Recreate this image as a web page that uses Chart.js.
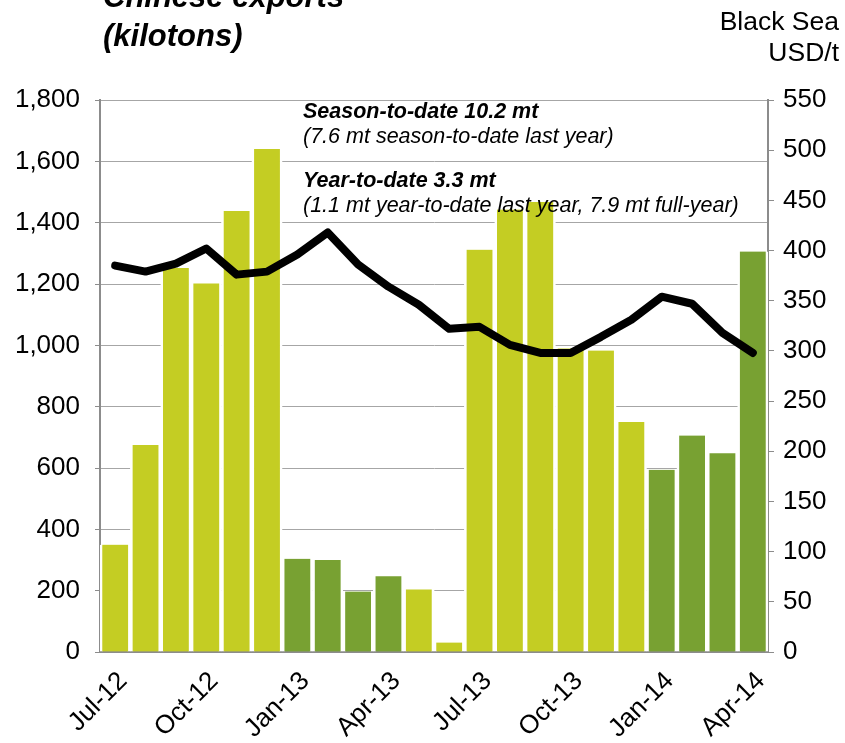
<!DOCTYPE html>
<html>
<head>
<meta charset="utf-8">
<script src="https://cdn.jsdelivr.net/npm/chart.js@4.4.1/dist/chart.umd.min.js"></script>
<style>
  html, body { margin: 0; padding: 0; background: #fff; }
  #wrap { width: 845px; height: 743px; position: relative; }
</style>
</head>
<body>
<div id="wrap"><canvas id="chartExports"></canvas></div>
<script>
// monthly wheat exports (kt) and Black Sea price (USD/t)
const months = ['Jul-12','Aug-12','Sep-12','Oct-12','Nov-12','Dec-12','Jan-13','Feb-13','Mar-13','Apr-13','May-13','Jun-13',
                'Jul-13','Aug-13','Sep-13','Oct-13','Nov-13','Dec-13','Jan-14','Feb-14','Mar-14','Apr-14'];
const exportsKt = [350, 675, 1252, 1202, 1438, 1640, 304, 300, 197, 247, 204, 31,
                   1312, 1443, 1467, 990, 983, 750, 594, 706, 648, 1306];
const priceUsd = [385, 379, 387, 402, 376, 379, 396, 418, 386, 364, 346, 322,
                  324, 306, 298, 298, 314, 331, 354, 347, 318, 298];
const exportTicks = { min: 0, max: 1800, step: 200 };
const priceTicks = { min: 0, max: 550, step: 50 };
const shownLabels = ['Jul-12','Oct-12','Jan-13','Apr-13','Jul-13','Oct-13','Jan-14','Apr-14'];
const notes = [
  ['Season-to-date 10.2 mt', '(7.6 mt season-to-date last year)'],
  ['Year-to-date 3.3 mt', '(1.1 mt year-to-date last year, 7.9 mt full-year)']
];

const FONT = "'Liberation Sans', Arial, sans-serif";
const LIGHT = '#c4cd23';
const DARK = '#78a132';
const AXIS = '#8c8c8c';

// Jan-Apr bars are darker
const barColors = months.map(m => ['Jan','Feb','Mar','Apr'].includes(m.slice(0,3)) ? DARK : LIGHT);

const textPlugin = {
  id: 'textPlugin',
  afterDraw(chart) {
    const ctx = chart.ctx;
    ctx.save();
    ctx.fillStyle = '#000';
    ctx.textBaseline = 'alphabetic';
    ctx.textAlign = 'left';
    ctx.font = 'italic bold 31px ' + FONT;
    ctx.fillText('Chinese exports', 103, 7);
    ctx.fillText('(kilotons)', 103, 46);

    ctx.textAlign = 'right';
    ctx.font = '26.5px ' + FONT;
    ctx.fillText('Black Sea', 839, 30);
    ctx.fillText('USD/t', 839, 61);

    ctx.textAlign = 'left';
    ctx.textBaseline = 'middle';
    let y = 112;
    notes.forEach(n => {
      ctx.font = 'italic bold 21.5px ' + FONT;
      ctx.fillText(n[0], 303, y);
      ctx.font = 'italic 21.5px ' + FONT;
      ctx.fillText(n[1], 303, y + 25);
      y += 69;
    });
    ctx.restore();
  }
};

Chart.defaults.font.family = FONT;
Chart.defaults.color = '#000';

new Chart(document.getElementById('chartExports'), {
  type: 'bar',
  data: {
    labels: months,
    datasets: [
      {
        type: 'line',
        label: 'Black Sea price',
        data: priceUsd,
        yAxisID: 'y1',
        borderColor: '#000',
        borderWidth: 8,
        pointRadius: 0,
        tension: 0,
        borderJoinStyle: 'round',
        borderCapStyle: 'round',
        order: 0
      },
      {
        label: 'Exports',
        data: exportsKt,
        yAxisID: 'y',
        backgroundColor: barColors,
        borderColor: '#fff',
        borderWidth: { left: 2.6, right: 2.6, top: 0, bottom: 0 },
        borderSkipped: false,
        categoryPercentage: 1,
        barPercentage: 1,
        order: 1
      }
    ]
  },
  options: {
    responsive: true,
    maintainAspectRatio: false,
    animation: false,
    layout: { padding: { top: 100, left: 0, right: 0, bottom: 0 } },
    plugins: { legend: { display: false }, tooltip: { enabled: false } },
    scales: {
      x: {
        grid: { display: false },
        border: { display: true, color: AXIS, width: 2 },
        ticks: {
          autoSkip: false,
          maxRotation: 45,
          minRotation: 45,
          labelOffset: 8,
          padding: 6,
          font: { size: 26 },
          callback: function(v, i) { return shownLabels.includes(months[i]) ? months[i] : ''; }
        },
        afterFit: s => { s.height = 91; }
      },
      y: {
        position: 'left',
        min: exportTicks.min,
        max: exportTicks.max,
        grid: { color: '#a6a6a6', lineWidth: 1, tickLength: 5, tickColor: AXIS },
        border: { display: true, color: AXIS, width: 2 },
        ticks: {
          stepSize: exportTicks.step,
          padding: 15,
          font: { size: 26 },
          callback: v => v.toLocaleString('en-US')
        },
        afterFit: s => { s.width = 100; }
      },
      y1: {
        position: 'right',
        min: priceTicks.min,
        max: priceTicks.max,
        grid: { drawOnChartArea: false, tickLength: 6, tickColor: AXIS },
        border: { display: true, color: AXIS, width: 2 },
        ticks: { stepSize: priceTicks.step, padding: 9, font: { size: 26 } },
        afterFit: s => { s.width = 77; }
      }
    }
  },
  plugins: [textPlugin]
});
</script>
</body>
</html>
